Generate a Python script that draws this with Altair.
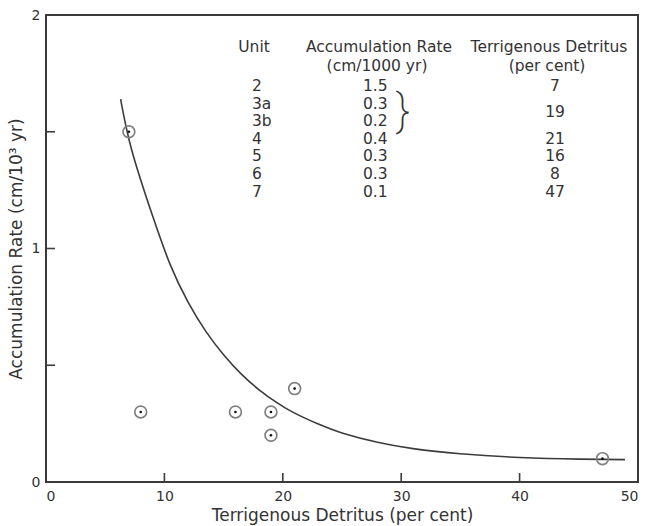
import altair as alt
import pandas as pd

# Sediment units: accumulation rate vs. terrigenous detritus
units = ["2", "3a", "3b", "4", "5", "6", "7"]
rates = [1.5, 0.3, 0.2, 0.4, 0.3, 0.3, 0.1]
detritus = [7, 19, 19, 21, 16, 8, 47]

# Detritus column as printed in the table (3a and 3b share one value)
detritus_labels = ["7", "19", "21", "16", "8", "47"]
detritus_rows = [0, 1.5, 3, 4, 5, 6]

# Hand-drawn trend curve
curve_x = [6.3, 7.25, 9.0, 10.5, 12.0, 13.5, 15.0, 16.5, 18.0, 19.5, 21.0, 23.0, 25.0,
           28.0, 31.0, 35.0, 40.0, 45.0, 48.9]
curve_y = [1.64, 1.42, 1.14, 0.93, 0.77, 0.645, 0.545, 0.462, 0.395, 0.34, 0.295, 0.248, 0.21,
           0.170, 0.143, 0.121, 0.105, 0.098, 0.096]

x_ticks = [10, 20, 30, 40]
y_ticks = [0.5, 1.0, 1.5]

FONT = "DejaVu Sans"
INK = "#333333"

pts = pd.DataFrame({"unit": units, "rate": rates, "detritus": detritus})
curve = pd.DataFrame({"x": curve_x, "y": curve_y})

xs = alt.Scale(domain=[0, 50], nice=False, zero=False)
ys = alt.Scale(domain=[0, 2], nice=False, zero=False)

x_axis = alt.Axis(values=[0, 10, 20, 30, 40, 50], labelExpr="format(datum.value, 'd')",
                  ticks=False, domain=False, grid=False, labelOverlap=False, labelBound=False,
                  labelFontSize=14, labelColor=INK, labelFont=FONT, labelPadding=7,
                  title="Terrigenous Detritus (per cent)", titleFont=FONT, titleFontSize=17,
                  titleFontWeight="normal", titleColor=INK, titlePadding=4)
y_axis = alt.Axis(values=[0, 1, 2], labelExpr="format(datum.value, 'd')",
                  ticks=False, domain=False, grid=False, labelOverlap=False, labelBound=False,
                  labelFontSize=14, labelColor=INK, labelFont=FONT, labelPadding=6,
                  title="Accumulation Rate (cm/10³ yr)", titleFont=FONT, titleFontSize=17,
                  titleFontWeight="normal", titleColor=INK, titlePadding=6)

line = alt.Chart(curve).mark_line(color="#3c3c3c", strokeWidth=1.6, interpolate="natural").encode(
    x=alt.X("x:Q", scale=xs, axis=x_axis),
    y=alt.Y("y:Q", scale=ys, axis=y_axis),
    order="x:Q",
)

rings = alt.Chart(pts).mark_point(shape="circle", size=140, filled=False, color="#808080",
                                  strokeWidth=1.7, opacity=1).encode(
    x=alt.X("detritus:Q", scale=xs), y=alt.Y("rate:Q", scale=ys))
dots = alt.Chart(pts).mark_point(shape="circle", size=7, filled=True, color="#111111",
                                 opacity=1).encode(
    x=alt.X("detritus:Q", scale=xs), y=alt.Y("rate:Q", scale=ys))

# Inward tick marks on the bottom and left frame
xt = alt.Chart(pd.DataFrame({"v": x_ticks})).mark_rule(color="#3c3c3c", strokeWidth=1.6).encode(
    x=alt.X("v:Q", scale=xs), y=alt.value(467), y2=alt.value(458))
yt = alt.Chart(pd.DataFrame({"v": y_ticks})).mark_rule(color="#3c3c3c", strokeWidth=1.6).encode(
    y=alt.Y("v:Q", scale=ys), x=alt.value(0), x2=alt.value(9))

# Table inset
row0, step = 71, 17.6
tbl = pd.DataFrame({"unit": units, "rate": [f"{r:.1f}" for r in rates], "row": list(range(len(units)))})
tbl_det = pd.DataFrame({"lab": detritus_labels, "row": detritus_rows})

def txt(**kw):
    base = dict(font=FONT, fontSize=15.5, color=INK, baseline="middle")
    base.update(kw)
    return base

unit_col = alt.Chart(tbl).mark_text(**txt(align="left")).transform_calculate(
    py=f"{row0} + datum.row * {step}").encode(
    x=alt.value(206), y=alt.Y("py:Q", scale=None), text="unit:N")
rate_col = alt.Chart(tbl).mark_text(**txt(align="left")).transform_calculate(
    py=f"{row0} + datum.row * {step}").encode(
    x=alt.value(317), y=alt.Y("py:Q", scale=None), text="rate:N")
det_col = alt.Chart(tbl_det).mark_text(**txt(align="center")).transform_calculate(
    py=f"{row0} + datum.row * {step}").encode(
    x=alt.value(509), y=alt.Y("py:Q", scale=None), text="lab:N")

headers = pd.DataFrame({
    "t": ["Unit", "Accumulation Rate", "(cm/1000 yr)", "Terrigenous Detritus", "(per cent)"],
    "px": [208, 333, 331, 503, 501],
    "py": [32, 32, 51, 32, 51],
})
head = alt.Chart(headers).mark_text(**txt(align="center")).encode(
    x=alt.X("px:Q", scale=None), y=alt.Y("py:Q", scale=None), text="t:N")

brace = alt.Chart(pd.DataFrame({"t": ["}"]})).mark_text(
    font="Roboto", fontWeight=200, fontSize=44, color=INK, baseline="middle", align="center"
).encode(x=alt.value(357), y=alt.value(97), text="t:N")

chart = alt.layer(line, xt, yt, rings, dots, head, unit_col, rate_col, det_col, brace).properties(
    width=592, height=467,
    autosize=alt.AutoSizeParams(type="none"),
    padding={"left": 46, "top": 15, "right": 9, "bottom": 44},
    background="white",
).configure_view(stroke="#3a3a3a", strokeWidth=2)

chart.save("out.html", embed_options={"renderer": "svg", "actions": False})
